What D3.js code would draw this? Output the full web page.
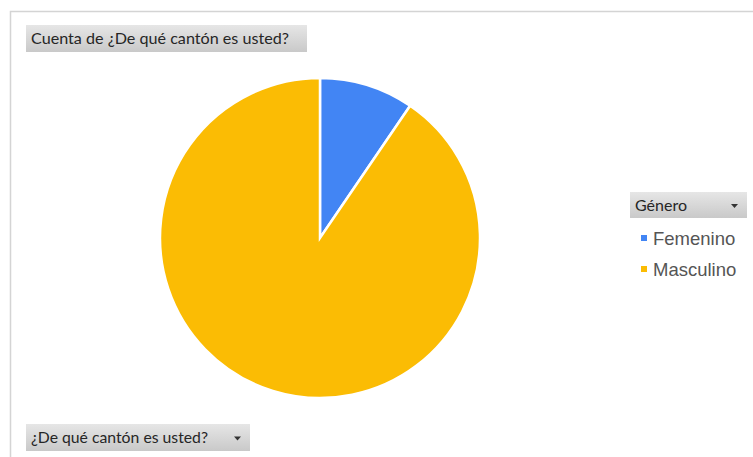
<!DOCTYPE html>
<html>
<head>
<meta charset="utf-8">
<script src="https://cdn.jsdelivr.net/npm/d3@7"></script>
<style>
  body { margin: 0; background: #fff; }
  svg { display: block; }
</style>
</head>
<body>
<div class="chart"></div>
<script>
const categories = ['Femenino', 'Masculino'];
const counts = [2, 19];
const colors = ['#4285f4', '#fbbc04'];
const titleText = 'Cuenta de ¿De qué cantón es usted?';
const axisFieldText = '¿De qué cantón es usted?';
const legendTitle = 'Género';

const fullWidth = 753;
const fullHeight = 457;

const svg = d3.select('.chart')
    .append('svg')
        .attr('width', fullWidth)
        .attr('height', fullHeight);

const defs = svg.append('defs');
const grad = defs.append('linearGradient')
    .attr('id', 'btn')
    .attr('x1', 0).attr('y1', 0).attr('x2', 0).attr('y2', 1);
grad.append('stop').attr('offset', '0%').attr('stop-color', '#e6e6e6');
grad.append('stop').attr('offset', '100%').attr('stop-color', '#c9c9c9');

// chart frame
svg.append('path')
    .attr('d', `M10.5,${fullHeight} V11.5 H${fullWidth}`)
    .attr('fill', 'none')
    .attr('stroke', '#d4d4d4')
    .attr('stroke-width', 1.5);

// field buttons (textW = measured width of the label in the picture)
function fieldButton(x, y, w, h, text, textW, arrow) {
    const g = svg.append('g').attr('transform', `translate(${x}, ${y})`);
    g.append('rect')
        .attr('width', w)
        .attr('height', h)
        .attr('fill', 'url(#btn)');
    g.append('text')
        .attr('x', 5)
        .attr('y', h / 2 + 5.5)
        .attr('font-family', 'Lato, sans-serif')
        .attr('font-size', 16)
        .attr('fill', '#262626')
        .attr('textLength', textW)
        .attr('lengthAdjust', 'spacingAndGlyphs')
        .text(text);
    if (arrow) {
        g.append('path')
            .attr('d', `M${w - 16},${h / 2 - 1} h7 l-3.5,4 z`)
            .attr('fill', '#333');
    }
    return g;
}

fieldButton(26, 25, 281, 27, titleText, 258, false);
fieldButton(26, 424, 224, 27, axisFieldText, 177, true);
fieldButton(630, 192, 117, 26, legendTitle, 52, true);

// pie
const cx = 320, cy = 238, radius = 160;

const pie = d3.pie().sort(null).value(d => d);
const arc = d3.arc().innerRadius(0).outerRadius(radius);

svg.append('g')
    .attr('transform', `translate(${cx}, ${cy})`)
    .selectAll('path')
    .data(pie(counts))
    .enter()
    .append('path')
        .attr('d', arc)
        .attr('fill', (d, i) => colors[i])
        .attr('stroke', '#fff')
        .attr('stroke-width', 2.5);

// legend
const legendY = d3.scalePoint()
    .domain(categories)
    .range([239, 270]);

const items = svg.append('g')
    .selectAll('g')
    .data(categories)
    .enter()
    .append('g')
        .attr('transform', d => `translate(641, ${legendY(d)})`);

items.append('rect')
    .attr('x', 0)
    .attr('y', -4)
    .attr('width', 6)
    .attr('height', 6)
    .attr('fill', (d, i) => colors[i]);

items.append('text')
    .attr('x', 12)
    .attr('y', 6)
    .attr('font-family', 'Liberation Sans, Arial, sans-serif')
    .attr('font-size', 18.5)
    .attr('fill', '#555')
    .text(d => d);
</script>
</body>
</html>
